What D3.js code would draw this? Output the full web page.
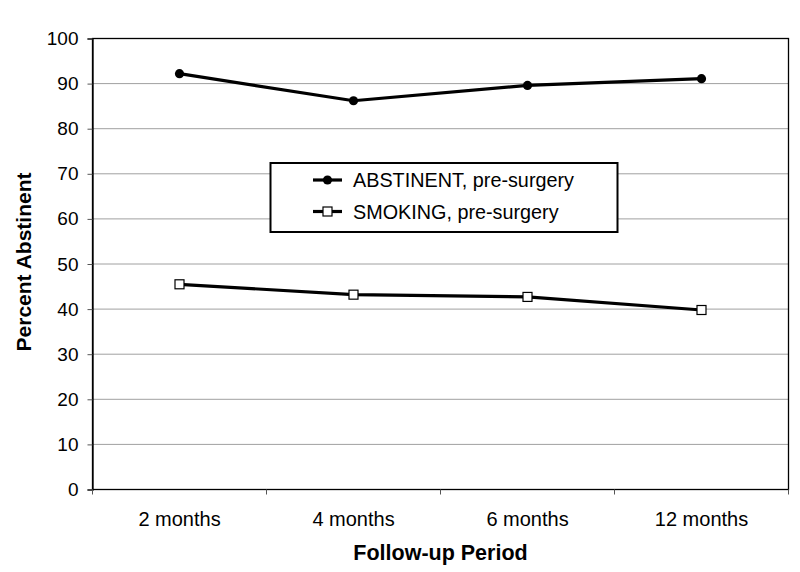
<!DOCTYPE html>
<html><head><meta charset="utf-8">
<script src="https://cdn.jsdelivr.net/npm/d3@7"></script>
<style>body{margin:0;background:#fff}svg{display:block;font-family:"Liberation Sans",Arial,sans-serif}</style>
</head><body><svg id="c" width="800" height="572"></svg>
<script>
const categories = ["2 months","4 months","6 months","12 months"];
const abstinent = [92.2, 86.2, 89.6, 91.1];
const smoking = [45.5, 43.2, 42.7, 39.8];
const yTicks = [0,10,20,30,40,50,60,70,80,90,100];
const seriesNames = ["ABSTINENT, pre-surgery","SMOKING, pre-surgery"];

const svg = d3.select("#c");
const L=92.5, R=788.5, T=38.5, B=489.5;
const x = d3.scaleBand().domain(categories).range([L,R]);
const y = d3.scaleLinear().domain([0,100]).range([B,T]);
const FF = "Liberation Sans, Arial, sans-serif";

// gridlines
svg.append("g").selectAll("line").data(yTicks.filter(d=>d>0&&d<100)).join("line")
  .attr("x1",L).attr("x2",R).attr("y1",d=>y(d)).attr("y2",d=>y(d))
  .attr("stroke","#a0a0a0").attr("stroke-width",1);

// frame
svg.append("rect").attr("x",L).attr("y",T).attr("width",R-L).attr("height",B-T)
  .attr("fill","none").attr("stroke","#000").attr("stroke-width",1.3);

// y axis
const ya = svg.append("g").attr("transform",`translate(${L},0)`)
  .call(d3.axisLeft(y).tickValues(yTicks).tickSize(5).tickPadding(9));
ya.select(".domain").attr("stroke","#000").attr("stroke-width",1.3);
ya.selectAll(".tick line").attr("stroke","#555");
ya.selectAll("text").attr("font-size",19).attr("fill","#000").attr("font-family",FF);

// x axis
const xa = svg.append("g").attr("transform",`translate(0,${B})`)
  .call(d3.axisBottom(x).tickSize(0).tickPadding(22));
xa.select(".domain").remove();
xa.selectAll("text").attr("font-size",20).attr("fill","#000").attr("font-family",FF);
// x tick marks at band boundaries
const bounds = categories.map(c=>x(c)).concat([R]);
svg.append("g").selectAll("line").data(bounds).join("line")
  .attr("x1",d=>d).attr("x2",d=>d).attr("y1",B).attr("y2",B+5)
  .attr("stroke","#555").attr("stroke-width",1);

const cx = c => x(c)+x.bandwidth()/2;
const line = d3.line().x((d,i)=>cx(categories[i])).y(d=>y(d));

svg.append("path").datum(abstinent).attr("d",line).attr("fill","none").attr("stroke","#000").attr("stroke-width",3.2);
svg.append("path").datum(smoking).attr("d",line).attr("fill","none").attr("stroke","#000").attr("stroke-width",3.2);

svg.append("g").selectAll("circle").data(abstinent).join("circle")
  .attr("cx",(d,i)=>cx(categories[i])).attr("cy",d=>y(d)).attr("r",4.6).attr("fill","#000");
svg.append("g").selectAll("rect").data(smoking).join("rect")
  .attr("x",(d,i)=>cx(categories[i])-4.5).attr("y",d=>y(d)-4.5).attr("width",9).attr("height",9)
  .attr("fill","#fff").attr("stroke","#000").attr("stroke-width",1.2);

// legend
const lg = svg.append("g");
lg.append("rect").attr("x",270.5).attr("y",163).attr("width",347).attr("height",69)
  .attr("fill","#fff").attr("stroke","#000").attr("stroke-width",2);
const rowsY=[180,211.5];
seriesNames.forEach((n,i)=>{
  const yy=rowsY[i];
  lg.append("line").attr("x1",313).attr("x2",342).attr("y1",yy).attr("y2",yy).attr("stroke","#000").attr("stroke-width",3.2);
  if(i===0) lg.append("circle").attr("cx",327.5).attr("cy",yy).attr("r",4.6).attr("fill","#000");
  else lg.append("rect").attr("x",323).attr("y",yy-4.5).attr("width",9).attr("height",9).attr("fill","#fff").attr("stroke","#000").attr("stroke-width",1.2);
  lg.append("text").attr("x",353).attr("y",yy).attr("dy","0.36em").attr("font-size",19.8).text(n);
});

// axis titles
svg.append("text").attr("x",(L+R)/2).attr("y",560).attr("text-anchor","middle")
  .attr("font-size",21.5).attr("font-weight","bold").text("Follow-up Period");
svg.append("text").attr("transform",`translate(31,262) rotate(-90)`).attr("text-anchor","middle")
  .attr("font-size",21).attr("font-weight","bold").text("Percent Abstinent");
</script></body></html>
